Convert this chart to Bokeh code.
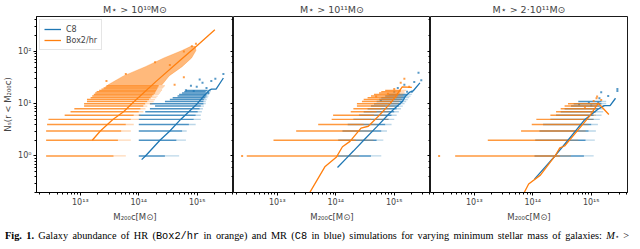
from bokeh.plotting import figure
from bokeh.models import Range1d, LogAxis, LogTicker, CustomJSTickFormatter, Div
from bokeh.layouts import row, column
from bokeh.embed import file_html
from bokeh.resources import INLINE

C8_COLOR = "#1f77b4"
BOX_COLOR = "#ff7f0e"

panel_titles = ["M⋆ > 10¹⁰M⊙", "M⋆ > 10¹¹M⊙", "M⋆ > 2·10¹¹M⊙"]
legend_labels = ["C8", "Box2/hr"]
x_label = "M₂₀₀c[M⊙]"
y_label = "Nₛ(r < M₂₀₀c)"

# ---------------- Panel 1 : M* > 1e10 ----------------
p1_c8_line_m = [1.12e14, 1.3e14, 2.3e14, 3.4e14, 5.2e14, 1.0e15, 1.3e15, 1.6e15, 1.75e15, 2.1e15, 2.8e15]
p1_c8_line_n = [0.85, 1.0, 2.0, 3.0, 5.0, 10.0, 14.0, 18.0, 19.0, 19.0, 31.0]
p1_box_line_m = [1.6e13, 2.2e13, 3.6e13, 5.5e13, 7.9e13, 2.0e14, 5.0e14, 1.0e15, 2.0e15]
p1_box_line_n = [2.0, 3.0, 5.0, 7.0, 10.4, 27.0, 66.0, 130.0, 260.0]

p1_c8_rows_n = [1, 2, 3, 4, 5, 6, 7, 8, 9, 10, 11, 12, 13, 14, 15, 16, 17, 18]
p1_c8_rows_lo = [1.0e14, 1.0e14, 1.0e14, 1.0e14, 1.0e14, 1.0e14, 1.29e14, 1.55e14, 1.9e14, 1.55e14, 2.8e14, 3.4e14,
                 3.8e14, 4.6e14, 4.9e14, 5.5e14, 6.0e14, 6.4e14]
p1_c8_rows_hi = [2.8e14, 4.4e14, 5.5e14, 7.2e14, 8.7e14, 9.4e14, 1.02e15, 1.1e15, 1.15e15, 1.28e15, 1.28e15, 1.3e15,
                 1.38e15, 1.44e15, 1.44e15, 1.4e15, 1.4e15, 1.5e15]
p1_c8_rows_tail = [4.9e14, 6.4e14, 6.6e14, 9.4e14, 1.15e15, 1.15e15, 1.2e15, 1.25e15, 1.3e15, 1.4e15, 1.4e15, 1.45e15,
                   1.5e15, 1.55e15, 1.6e15, 1.6e15, 1.7e15, 1.7e15]
p1_c8_pts_m = [6.4e14, 7.8e14, 8.7e14, 9.8e14, 1.1e15, 1.23e15, 1.44e15, 1.55e15, 1.74e15, 2.04e15, 2.8e15]
p1_c8_pts_n = [18, 22, 17.5, 21, 29, 25, 20, 16, 27, 30, 37]

p1_box_rows_n = [1, 2, 3, 4, 5, 6, 7, 8, 9, 10, 11, 12, 13, 14, 15, 16, 17, 18, 19, 20, 21, 22]
p1_box_rows_lo = [2.6e12, 2.6e12, 2.6e12, 2.7e12, 2.85e12, 5.4e12, 6.8e12, 7.9e12, 1.16e13, 1.16e13, 1.3e13, 1.3e13,
                  1.5e13, 1.6e13, 1.7e13, 1.8e13, 1.9e13, 2.1e13, 2.3e13, 2.5e13, 2.7e13, 2.8e13]
p1_box_rows_hi = [3.7e13, 4.4e13, 5.0e13, 6.0e13, 7.3e13, 8.2e13, 1.0e14, 1.07e14, 1.2e14, 1.29e14, 1.4e14, 1.5e14,
                  1.6e14, 1.7e14, 1.8e14, 1.9e14, 1.95e14, 2.0e14, 2.05e14, 2.1e14, 2.15e14, 2.2e14]
p1_box_rows_tail = [6.0e13, 7.3e13, 7.3e13, 8.2e13, 1.0e14, 1.07e14, 1.2e14, 1.3e14, 1.4e14, 1.7e14, 1.8e14, 1.9e14,
                    2.0e14, 2.1e14, 2.2e14, 2.3e14, 2.4e14, 2.5e14, 2.5e14, 2.6e14, 2.7e14, 2.8e14]
p1_box_cloud_m = [3.0e13, 5.5e13, 1.3e14, 2.7e14, 5.5e14, 7.8e14,
                  9.2e14, 9.5e14, 8.0e14, 5.5e14, 3.3e14, 2.5e14]
p1_box_cloud_n = [23, 34, 51, 75, 104, 125,
                  125, 104, 75, 51, 34, 23]
p1_box_pts_m = [2.8e13, 6.0e13, 1.9e14, 3.4e14, 4.1e14, 5.9e14, 5.9e14, 8.1e14, 9.5e14]
p1_box_pts_n = [27, 37, 62, 55, 23, 32, 100, 126, 140]

# ---------------- Panel 2 : M* > 1e11 ----------------
p2_c8_line_m = [1.07e14, 1.5e14, 2.0e14, 3.0e14, 5.0e14, 7.5e14, 1.0e15, 1.38e15, 1.55e15, 1.85e15, 2.1e15, 2.75e15]
p2_c8_line_n = [0.60, 0.89, 1.24, 2.0, 3.6, 5.8, 8.0, 11.0, 13.8, 16.7, 17.5, 25.0]
p2_box_line_m = [3.3e13, 6.5e13, 1.03e14, 1.3e14, 1.75e14, 2.7e14, 3.6e14, 5.3e14, 8.5e14, 1.0e15, 1.37e15, 2.0e15]
p2_box_line_n = [0.17, 0.62, 0.96, 1.5, 1.9, 3.4, 3.7, 5.7, 10.0, 12.7, 21.0, 20.5]

p2_c8_rows_n = [1, 2, 3, 4, 5, 6, 7, 8, 9, 10, 11, 12, 13, 14, 15]
p2_c8_rows_lo = [1.07e14, 1.1e14, 1.3e14, 1.6e14, 2.0e14, 2.5e14, 3.0e14, 3.5e14, 4.0e14, 4.5e14, 5.0e14, 5.5e14,
                 6.0e14, 7.0e14, 8.0e14]
p2_c8_rows_hi = [4.0e14, 5.0e14, 6.0e14, 7.0e14, 8.0e14, 9.0e14, 1.0e15, 1.1e15, 1.2e15, 1.3e15, 1.4e15, 1.4e15,
                 1.5e15, 1.6e15, 1.7e15]
p2_c8_rows_tail = [6.0e14, 6.5e14, 7.5e14, 9.0e14, 1.0e15, 1.1e15, 1.2e15, 1.3e15, 1.4e15, 1.5e15, 1.6e15, 1.7e15,
                   1.8e15, 1.9e15, 2.0e15]
p2_c8_pts_m = [5.9e14, 1.0e15, 1.15e15, 1.49e15, 1.66e15, 2.0e15, 2.2e15, 2.6e15, 2.9e15]
p2_c8_pts_n = [11.2, 17, 20, 23, 17, 17, 26, 39, 28]

p2_box_rows_n = [1, 2, 3, 4, 5, 6, 7, 8, 9, 10, 11, 12, 13, 14, 15, 16, 17, 18]
p2_box_rows_lo = [3.0e12, 8.6e12, 2.1e13, 5.0e13, 8.5e13, 9.0e13, 1.8e14, 2.0e14, 2.3e14, 2.3e14, 2.8e14, 3.0e14,
                  3.5e14, 4.0e14, 4.5e14, 5.5e14, 6.0e14, 7.0e14]
p2_box_rows_hi = [1.1e14, 2.2e14, 2.6e14, 3.0e14, 4.0e14, 4.5e14, 5.0e14, 6.0e14, 7.0e14, 8.0e14, 9.0e14, 1.0e15,
                  1.1e15, 1.15e15, 1.2e15, 1.25e15, 1.3e15, 1.3e15]
p2_box_rows_tail = [2.5e14, 4.4e14, 4.5e14, 5.0e14, 8.0e14, 7.0e14, 8.0e14, 8.5e14, 1.0e15, 1.2e15, 1.2e15, 1.3e15,
                    1.3e15, 1.4e15, 1.4e15, 1.5e15, 1.5e15, 1.6e15]
p2_box_pts_m = [2.5e12, 4.9e14, 7.8e14, 1.0e15, 1.29e15, 1.49e15, 1.8e15]
p2_box_pts_n = [1, 13.7, 15.5, 19, 25, 30, 21]

# ---------------- Panel 3 : M* > 2e11 ----------------
p3_c8_line_m = [1.07e14, 2.4e14, 4.0e14, 7.8e14, 1.32e15, 1.66e15, 2.1e15, 2.6e15]
p3_c8_line_n = [0.36, 1.0, 2.0, 5.0, 7.9, 9.2, 9.2, 12.7]
p3_box_line_m = [6.8e13, 8.5e13, 1.35e14, 2.4e14, 2.9e14, 3.5e14, 4.4e14, 9.3e14, 1.32e15, 2.0e15]
p3_box_line_n = [0.18, 0.29, 0.43, 1.0, 1.43, 1.55, 2.1, 5.7, 10.2, 6.2]

p3_c8_rows_n = [1, 2, 3, 4, 5, 6, 7, 8, 9, 10, 11]
p3_c8_rows_lo = [1.07e14, 1.1e14, 1.3e14, 1.5e14, 2.0e14, 2.5e14, 3.0e14, 3.5e14, 4.5e14, 5.0e14, 6.0e14]
p3_c8_rows_hi = [7.5e14, 8.0e14, 9.0e14, 1.0e15, 1.1e15, 1.1e15, 1.2e15, 1.3e15, 1.4e15, 1.5e15, 1.5e15]
p3_c8_rows_tail = [1.1e15, 1.15e15, 1.2e15, 1.3e15, 1.4e15, 1.5e15, 1.6e15, 1.6e15, 1.7e15, 1.8e15, 1.8e15]
p3_c8_pts_m = [6.2e14, 9.1e14, 1.0e15, 1.32e15, 1.38e15, 1.48e15, 1.95e15, 2.8e15, 2.8e15]
p3_c8_pts_n = [9.6, 10.4, 9.2, 10.4, 12.7, 16.5, 14, 17.5, 19]

p3_box_rows_n = [1, 2, 3, 4, 5, 6, 7, 8, 9, 10]
p3_box_rows_lo = [4.7e12, 1.7e13, 6.3e13, 9.6e13, 1.15e14, 2.0e14, 2.5e14, 3.0e14, 3.5e14, 4.0e14]
p3_box_rows_hi = [2.9e14, 4.2e14, 6.0e14, 7.0e14, 8.0e14, 9.0e14, 1.0e15, 1.1e15, 1.2e15, 1.3e15]
p3_box_rows_tail = [4.5e14, 6.0e14, 8.0e14, 9.0e14, 1.1e15, 1.2e15, 1.2e15, 1.3e15, 1.4e15, 1.4e15]
p3_box_pts_m = [2.5e12, 7.8e14, 1.1e15, 1.23e15, 1.26e15, 1.48e15]
p3_box_pts_n = [1, 8.5, 11.2, 12.7, 13.7, 11.7]

X_MIN, X_MAX = 1.78e12, 4.17e15
Y_MIN, Y_MAX = 0.2, 465.0

FONT = "DejaVu Sans"
sup_formatter_code = """
const e = Math.round(Math.log10(tick));
const sup = {'-':'\u207b','0':'\u2070','1':'\u00b9','2':'\u00b2','3':'\u00b3','4':'\u2074',
             '5':'\u2075','6':'\u2076','7':'\u2077','8':'\u2078','9':'\u2079'};
return '10' + String(e).split('').map(c => sup[c]).join('');
"""

x_range = Range1d(X_MIN, X_MAX)
y_range = Range1d(Y_MIN, Y_MAX)


def style_axis(ax):
    ax.major_tick_in = 0
    ax.major_tick_out = 3
    ax.minor_tick_in = 0
    ax.minor_tick_out = 2
    ax.major_tick_line_color = "black"
    ax.minor_tick_line_color = "black"
    ax.axis_line_color = "black"
    ax.major_label_text_font = FONT
    ax.major_label_text_font_size = "8px"
    ax.major_label_standoff = 2
    ax.axis_label_text_font = FONT
    ax.axis_label_text_font_size = "8.5px"
    ax.axis_label_text_font_style = "normal"
    ax.axis_label_standoff = 2
    ax.formatter = CustomJSTickFormatter(code=sup_formatter_code)


def inner_axis():
    ax = LogAxis(ticker=LogTicker(), formatter=CustomJSTickFormatter(code="return '';"))
    ax.major_tick_in = 3
    ax.major_tick_out = 0
    ax.minor_tick_in = 2
    ax.minor_tick_out = 0
    ax.major_label_standoff = 0
    ax.major_label_text_font_size = "0px"
    ax.axis_line_color = None
    ax.major_tick_line_color = "black"
    ax.minor_tick_line_color = "black"
    return ax


def draw_rows(f, rows_n, rows_lo, rows_hi, rows_tail, pts_m, pts_n, color):
    f.segment(x0=rows_hi, y0=rows_n, x1=rows_tail, y1=rows_n, line_color=color, line_width=1.3, line_alpha=0.3)
    f.segment(x0=rows_lo, y0=rows_n, x1=rows_hi, y1=rows_n, line_color=color, line_width=1.4, line_alpha=0.8)
    f.scatter(pts_m, pts_n, size=2, marker="square", fill_color=color, line_color=None, fill_alpha=0.75)


def make_fig(i):
    f = figure(frame_width=197, frame_height=176, x_axis_type="log", y_axis_type="log",
               x_range=x_range, y_range=y_range, output_backend="svg", toolbar_location=None,
               y_axis_location="left" if i == 0 else None, min_border=0,
               min_border_right=(2 if i == 2 else 0), title=panel_titles[i])
    f.title.text_font = FONT
    f.title.text_font_size = "9.5px"
    f.title.text_font_style = "normal"
    f.title.align = "center"
    f.title.standoff = 3
    f.outline_line_color = "black"
    f.outline_line_width = 0.9
    f.xgrid.visible = False
    f.ygrid.visible = False
    f.background_fill_color = "white"
    f.border_fill_color = "white"
    style_axis(f.xaxis[0])
    f.xaxis[0].axis_label = x_label
    if i == 0:
        style_axis(f.yaxis[0])
        f.yaxis[0].axis_label = y_label
    if i < 2:
        f.add_layout(inner_axis(), "right")
    return f


panels = [
    (p1_c8_rows_n, p1_c8_rows_lo, p1_c8_rows_hi, p1_c8_rows_tail, p1_c8_pts_m, p1_c8_pts_n,
     p1_box_rows_n, p1_box_rows_lo, p1_box_rows_hi, p1_box_rows_tail, p1_box_pts_m, p1_box_pts_n,
     p1_c8_line_m, p1_c8_line_n, p1_box_line_m, p1_box_line_n),
    (p2_c8_rows_n, p2_c8_rows_lo, p2_c8_rows_hi, p2_c8_rows_tail, p2_c8_pts_m, p2_c8_pts_n,
     p2_box_rows_n, p2_box_rows_lo, p2_box_rows_hi, p2_box_rows_tail, p2_box_pts_m, p2_box_pts_n,
     p2_c8_line_m, p2_c8_line_n, p2_box_line_m, p2_box_line_n),
    (p3_c8_rows_n, p3_c8_rows_lo, p3_c8_rows_hi, p3_c8_rows_tail, p3_c8_pts_m, p3_c8_pts_n,
     p3_box_rows_n, p3_box_rows_lo, p3_box_rows_hi, p3_box_rows_tail, p3_box_pts_m, p3_box_pts_n,
     p3_c8_line_m, p3_c8_line_n, p3_box_line_m, p3_box_line_n),
]

figs = []
for i, d in enumerate(panels):
    f = make_fig(i)
    draw_rows(f, d[0], d[1], d[2], d[3], d[4], d[5], C8_COLOR)
    if i == 0:
        f.patch(p1_box_cloud_m, p1_box_cloud_n, fill_color=BOX_COLOR, fill_alpha=0.55, line_color=BOX_COLOR,
                line_alpha=0.3, line_width=1)
    draw_rows(f, d[6], d[7], d[8], d[9], d[10], d[11], BOX_COLOR)
    if i == 0:
        f.line(d[12], d[13], line_color=C8_COLOR, line_width=1.3, legend_label=legend_labels[0])
        f.line(d[14], d[15], line_color=BOX_COLOR, line_width=1.3, legend_label=legend_labels[1])
        lg = f.legend[0]
        lg.location = "top_left"
        lg.label_text_font = FONT
        lg.label_text_font_size = "8px"
        lg.glyph_width = 17
        lg.glyph_height = 10
        lg.label_height = 10
        lg.spacing = 1
        lg.padding = 4
        lg.margin = 3
        lg.label_standoff = 5
        lg.border_line_color = "#cccccc"
        lg.background_fill_alpha = 0.8
    else:
        f.line(d[12], d[13], line_color=C8_COLOR, line_width=1.3)
        f.line(d[14], d[15], line_color=BOX_COLOR, line_width=1.3)
    figs.append(f)

caption_html = (
    '<div style="width:624px;height:13px;overflow:hidden;font-family:\'Liberation Serif\',serif;'
    'font-size:10.3px;line-height:13px;text-align:justify;text-align-last:justify;color:#000;">'
    '<b>Fig. 1.</b> Galaxy abundance of HR (<span style="font-family:\'Liberation Mono\',monospace">Box2/hr</span>'
    ' in orange) and MR (<span style="font-family:\'Liberation Mono\',monospace">C8</span> in blue) simulations'
    ' for varying minimum stellar mass of galaxies: <i>M</i><span style="font-size:7px">⋆</span> &gt;</div>'
)
caption = Div(text=caption_html, width=624, height=13)

layout = column(row(*figs), caption)
open("out.html", "w").write(file_html(layout, INLINE))
